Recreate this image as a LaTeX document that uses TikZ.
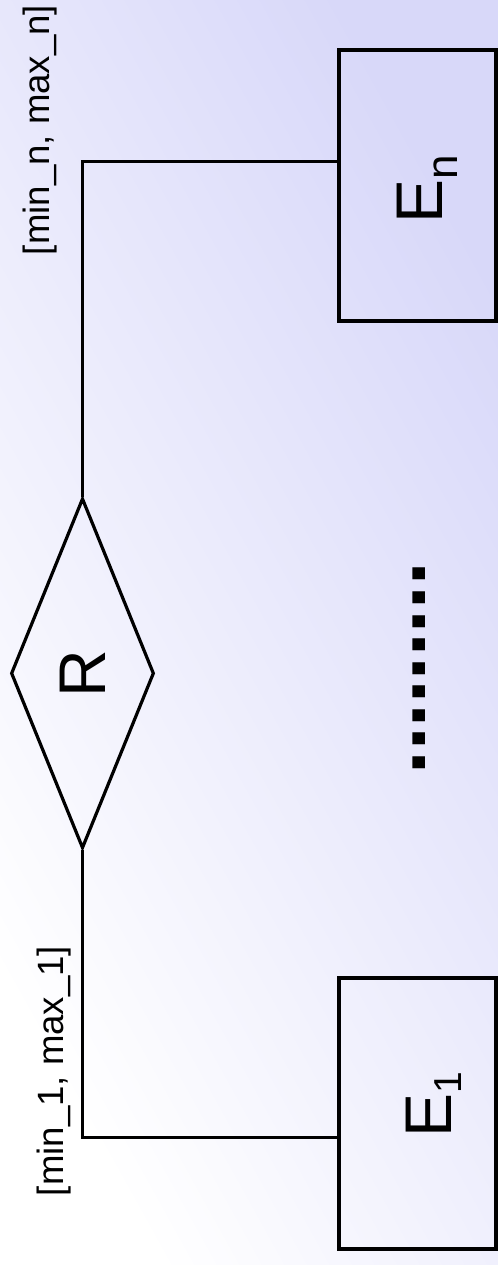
\documentclass[tikz,border=0pt]{standalone}
\usepackage{fontspec}
\setmainfont{Liberation Sans}
\usetikzlibrary{shapes.geometric, positioning}
\definecolor{slidedark}{HTML}{D8D8F9}
\definecolor{slidelight}{HTML}{FFFFFF}
\tikzset{
entity/.style={shape=rectangle, minimum width=78.5pt, minimum height=135.5pt, inner sep=0, draw, line width=2pt}, ename/.style={rotate=90, inner sep=0, font=\fontsize{33}{40}\selectfont}, relationship/.style={diamond, minimum width=71.5pt, minimum height=175pt, inner sep=0, draw, line width=1.6pt, font=\fontsize{33}{40}\selectfont}, card/.style={rotate=90, inner sep=0, font=\fontsize{18.3}{22}\selectfont}}

\begin{document}
\begin{tikzpicture}[x=0.5pt, y=0.5pt]
\shade [top color=slidedark, bottom color=slidelight, shading angle=-61] (0,0) rectangle (498,1265);
\useasboundingbox (0,0) rectangle (498,1265);
\node [relationship] at (82.5, 591.7) (r) {\rotatebox{90}{R}};
\node [entity] at (417.5, 1079) (e-n) {};
\node [entity] at (417.5, 151) (e-1) {};
\node [ename] at (427, 1076) (e-n-name) {E\raisebox{-7.5pt}{\fontsize{22}{26}\selectfont n}};
\node [ename] at (434, 160) (e-1-name) {E\raisebox{-5pt}{\fontsize{19.5}{23}\selectfont 1}};
\draw [line width=1.5pt] (r.north) |- ([yshift=12pt]e-n.west);
\draw [line width=1.5pt] (r.south) |- ([yshift=-12pt]e-1.west);
\node [card] at (40.5, 1135) (card-n) {[min\_n, max\_n]};
\node [card] at (54.5, 194) (card-1) {[min\_1, max\_1]};
\node [rotate=90, font=\bfseries\fontsize{42.4}{50}\selectfont] at (419, 596.5) (dots) {.........};
\end{tikzpicture}
\end{document}
